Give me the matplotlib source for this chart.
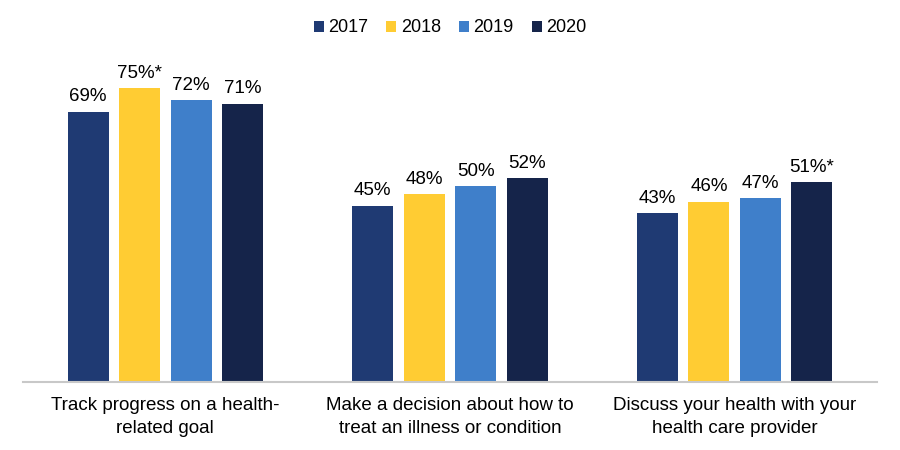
import matplotlib
matplotlib.use("Agg")
import matplotlib.pyplot as plt
import numpy as np

plt.rcParams['font.family'] = ['Liberation Sans', 'DejaVu Sans']

categories = ["Track progress on a health-\nrelated goal",
              "Make a decision about how to\ntreat an illness or condition",
              "Discuss your health with your\nhealth care provider"]
years = ["2017", "2018", "2019", "2020"]
values = {
    "2017": [69, 45, 43],
    "2018": [75, 48, 46],
    "2019": [72, 50, 47],
    "2020": [71, 52, 51],
}
labels = {
    "2017": ["69%", "45%", "43%"],
    "2018": ["75%*", "48%", "46%"],
    "2019": ["72%", "50%", "47%"],
    "2020": ["71%", "52%", "51%*"],
}
colors = ["#1F3A73", "#FFCC33", "#3F7FCA", "#15244A"]

fig = plt.figure(figsize=(9, 4.5), dpi=100)
ax = fig.add_axes([0.0256, 0.151, 0.9488, 0.697])

x = np.arange(len(categories))
width = 0.144
step = 0.181
offsets = (np.arange(len(years)) - 1.5) * step

for i, y in enumerate(years):
    bars = ax.bar(x + offsets[i], values[y], width, color=colors[i], label=y, zorder=2)
    for b, lab in zip(bars, labels[y]):
        ax.annotate(lab, (b.get_x() + b.get_width() / 2, b.get_height()),
                    xytext=(0, 4.5), textcoords="offset points",
                    ha="center", va="bottom", fontsize=13.5, color="#000000")

ax.set_xlim(-0.5, 2.5)
ax.set_ylim(0, 80)
ax.set_yticks([])
ax.set_xticks(x)
ax.set_xticklabels(categories, fontsize=13.5, linespacing=1.45)
ax.tick_params(axis='x', length=0, pad=11)
for s in ["top", "right", "left"]:
    ax.spines[s].set_visible(False)
ax.spines["bottom"].set_color("#C8C8C8")
ax.spines["bottom"].set_linewidth(1.5)

leg = fig.legend(loc="center", bbox_to_anchor=(0.5, 1 - 28 / 450), ncol=4, frameon=False,
                 fontsize=13, handlelength=0.55, handleheight=0.55, handletextpad=0.25,
                 columnspacing=1.0)

fig.savefig("out.png", dpi=100)
